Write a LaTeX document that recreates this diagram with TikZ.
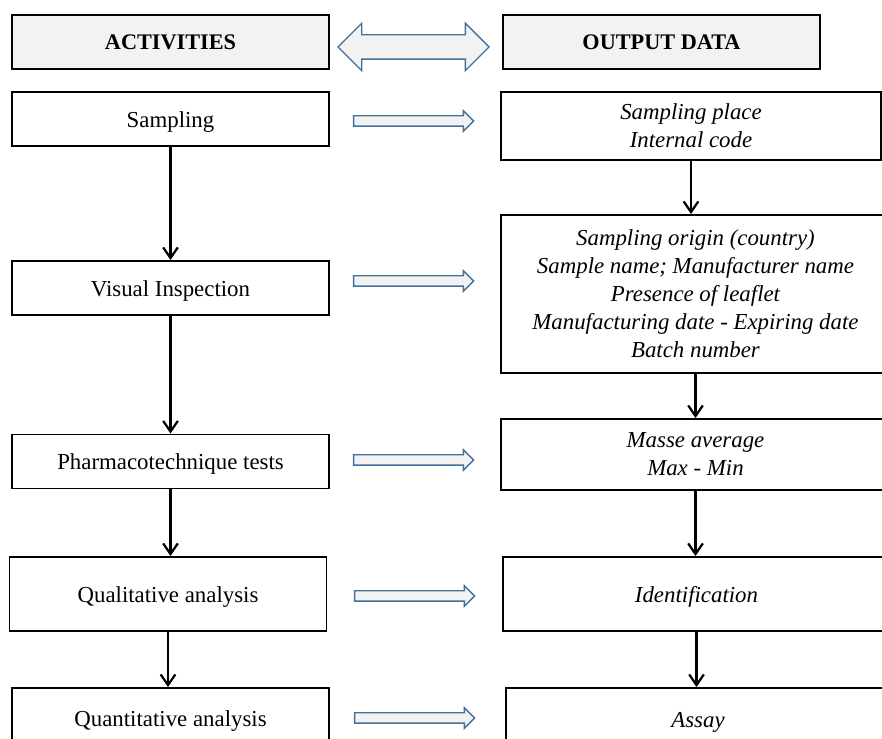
\documentclass[tikz,border=0pt]{standalone}
\usepackage{fontspec}
\setmainfont{Liberation Serif}
\usepackage{xcolor}
\usetikzlibrary{arrows.meta,shapes.arrows}

\definecolor{boxgray}{HTML}{F2F2F2}
\definecolor{arrblue}{HTML}{41719C}

\begin{document}
\begin{tikzpicture}[
  x=0.03cm, y=-0.03cm,
  every node/.style={font=\fontsize{19.5}{23.9}\selectfont},
  head/.style={draw, line width=2.4pt, fill=boxgray, minimum width=9.51cm, minimum height=1.62cm, text height=0.56cm, text depth=0.1cm, font=\fontsize{19}{23}\selectfont\bfseries},
  activity/.style={draw, line width=1.6pt, fill=white, minimum width=9.51cm, minimum height=1.62cm, text height=0.62cm, text depth=0.12cm},
  output/.style={draw, line width=1.6pt, fill=white, align=center, font=\fontsize{19.5}{23.9}\selectfont\itshape},
  single/.style={text height=0.62cm, text depth=0.12cm},
  flow/.style={-{Straight Barb[length=3.2mm,width=4.4mm]}, line width=1.9pt},
  feed/.style={single arrow, draw=arrblue, line width=1.2pt, fill=boxgray, minimum height=3.6cm, minimum width=0.57cm, single arrow head extend=0.15cm, inner sep=0.135cm},
  link/.style={double arrow, draw=arrblue, line width=1.2pt, fill=boxgray, minimum height=4.53cm, minimum width=1.38cm, double arrow head extend=0.345cm, inner sep=0.345cm}
]
\useasboundingbox (0,0) rectangle (882,739);
\clip (0,0) rectangle (882,739);

% headers
\node[head] (act) at (170.5,42) {ACTIVITIES};
\node[head] (out) at (661.5,42) {OUTPUT DATA};
\node[link] (both) at (413.5,47) {};

% activities
\node[activity] (samp) at (170.5,119) {Sampling};
\node[activity] (vis) at (170.5,288) {Visual Inspection};
\node[activity] (pharm) at (170.5,461.5) {Pharmacotechnique tests};
\node[activity, minimum height=2.22cm] (qual) at (168,594) {Qualitative analysis};
\node[activity, minimum height=1.8cm] (quant) at (170.5,718) {Quantitative analysis};

% output data
\node[output, minimum width=11.4cm, minimum height=2.04cm] (place) at (691,126) {Sampling place\\Internal code};
\node[output, minimum width=11.67cm, minimum height=4.74cm] (origin) at (695.5,294) {Sampling origin (country)\\Sample name; Manufacturer name\\Presence of leaflet\\Manufacturing date - Expiring date\\Batch number};
\node[output, minimum width=11.67cm, minimum height=2.13cm] (masse) at (695.5,454.5) {Masse average\\Max - Min};
\node[output, single, minimum width=11.61cm, minimum height=2.22cm] (ident) at (696.5,594) {Identification};
\node[output, single, minimum width=11.52cm, minimum height=1.86cm] (assay) at (698,719) {Assay};

% activity to output
\node[feed] (f1) at (411,121) {};
\node[feed] (f2) at (411,281) {};
\node[feed] (f3) at (411,460) {};
\node[feed] (f4) at (412,596) {};
\node[feed] (f5) at (412,718) {};

\draw[flow] (samp.south) -- (samp.south |- vis.north);
\draw[flow] (vis.south) -- (vis.south |- pharm.north);
\draw[flow] (pharm.south) -- (pharm.south |- qual.north);
\draw[flow] (qual.south) -- (qual.south |- quant.north);

\draw[flow] (place.south) -- (place.south |- origin.north);
\draw[flow] (origin.south) -- (origin.south |- masse.north);
\draw[flow] (masse.south) -- (masse.south |- ident.north);
\draw[flow] (ident.south) -- (ident.south |- assay.north);
\end{tikzpicture}
\end{document}
